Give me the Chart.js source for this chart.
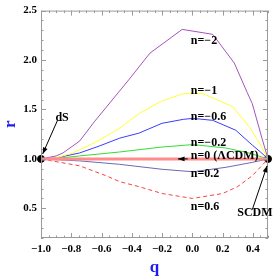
<!DOCTYPE html>
<html>
<head>
<meta charset="UTF-8">
<title>r-q</title>
<script src="https://cdn.jsdelivr.net/npm/chart.js"></script>
<style>
  html, body { margin: 0; padding: 0; background: #fff; }
  #wrap { width: 273px; height: 279px; }
</style>
</head>
<body>
<div id="wrap"><canvas id="myChart"></canvas></div>
<script>
// values
var qM2 = [-1, -0.9, -0.855, -0.745, -0.648, -0.42, -0.28, -0.067, 0.135, 0.277, 0.363, 0.396, 0.46, 0.5];
var rM2 = [1, 1.03, 1.06, 1.18, 1.375, 1.80, 2.07, 2.31, 2.26, 1.97, 1.67, 1.56, 1.21, 1.0];

var qM1 = [-1, -0.9, -0.79, -0.637, -0.48, -0.42, -0.35, -0.21, -0.06, 0.07, 0.19, 0.265, 0.374, 0.44, 0.5];
var rM1 = [1, 1.01, 1.06, 1.17, 1.31, 1.38, 1.46, 1.58, 1.66, 1.66, 1.58, 1.53, 1.33, 1.17, 1.0];

var qM06 = [-1, -0.9, -0.745, -0.615, -0.48, -0.354, -0.2, -0.06, 0.005, 0.135, 0.287, 0.396, 0.45, 0.5];
var rM06 = [1, 1.01, 1.06, 1.13, 1.21, 1.26, 1.36, 1.40, 1.41, 1.39, 1.29, 1.14, 1.07, 1.0];

var qM02 = [-1, -0.9, -0.745, -0.48, -0.2, 0.005, 0.222, 0.374, 0.5];
var rM02 = [1, 1.005, 1.03, 1.07, 1.12, 1.145, 1.11, 1.06, 1.0];

var qZero = [-1, 0.5];
var rZero = [1, 1];

var qP02 = [-1, -0.745, -0.48, -0.2, 0.005, 0.222, 0.396, 0.5];
var rP02 = [1, 0.98, 0.945, 0.895, 0.87, 0.915, 0.965, 1.0];

var qP06 = [-1, -0.745, -0.57, -0.48, -0.354, -0.2, 0.0, 0.2, 0.3, 0.396, 0.47, 0.5];
var rP06 = [1, 0.93, 0.83, 0.77, 0.72, 0.65, 0.60, 0.65, 0.72, 0.83, 0.95, 1.0];

var qFixed = [-1, 0.5];
var rFixed = [1, 1];

var xTicks = [-1.0, -0.8, -0.6, -0.4, -0.2, 0.0, 0.2, 0.4];
var yTicks = [0.5, 1.0, 1.5, 2.0, 2.5];
var xMinorStep = 0.05;
var yMinorStep = 0.1;

function pts(q, r) {
    var out = [];
    for (var i = 0; i < q.length; i++) out.push({ x: q[i], y: r[i] });
    return out;
}

function fmt(v) {
    var s = Math.abs(v).toFixed(1);
    return (v < -1e-9 ? '\u2212' : '') + s;
}

var SERIF = '"Liberation Serif", "DejaVu Serif", serif';

// text labels and arrows, in data coordinates
var notes = [
    { text: 'n=\u22122', q: -0.01, r: 2.19 },
    { text: 'n=\u22121', q: -0.01, r: 1.69 },
    { text: 'n=\u22120.6', q: -0.01, r: 1.42 },
    { text: 'n=\u22120.2', q: -0.01, r: 1.16 },
    { text: 'n=0 (\u039BCDM)', q: -0.01, r: 1.03 },
    { text: 'n=0.2', q: -0.01, r: 0.85 },
    { text: 'n=0.6', q: -0.01, r: 0.515 },
    { text: 'SCDM', q: 0.297, r: 0.457 },
    { text: 'dS', q: -0.905, r: 1.41 }
];
var arrows = [
    { q1: -0.891, r1: 1.39, q2: -0.989, r2: 1.05 },
    { q1: 0.396, r1: 0.486, q2: 0.494, r2: 0.93 },
    { q1: -0.03, r1: 1.0, q2: -0.095, r2: 1.0 }
];

var framePlugin = {
    id: 'frame',
    afterDatasetsDraw: function(chart) {
        var ctx = chart.ctx, a = chart.chartArea;
        var xs = chart.scales.x, ys = chart.scales.y;
        ctx.save();
        ctx.strokeStyle = '#9a9a9a';
        ctx.lineWidth = 1;
        ctx.strokeRect(a.left + 0.5, a.top + 0.5, a.right - a.left - 1, a.bottom - a.top - 1);
        ctx.beginPath();
        var v, px, len, k;
        for (k = 0; ; k++) {
            v = xs.min + k * xMinorStep;
            if (v > xs.max + 1e-9) break;
            len = (Math.abs(Math.round(v * 10) - v * 10) < 1e-6 && Math.round(v * 10) % 2 === 0) ? 5 : 2.5;
            px = Math.round(xs.getPixelForValue(v)) + 0.5;
            ctx.moveTo(px, a.bottom); ctx.lineTo(px, a.bottom - len);
            ctx.moveTo(px, a.top); ctx.lineTo(px, a.top + len);
        }
        for (k = 0; ; k++) {
            v = 0.2 + k * yMinorStep;
            if (v > ys.max + 1e-9) break;
            len = (Math.abs(Math.round(v * 2) - v * 2) < 1e-6) ? 5 : 2.5;
            px = Math.round(ys.getPixelForValue(v)) + 0.5;
            ctx.moveTo(a.left, px); ctx.lineTo(a.left + len, px);
            ctx.moveTo(a.right, px); ctx.lineTo(a.right - len, px);
        }
        ctx.stroke();

        // arrows
        ctx.strokeStyle = '#000';
        ctx.fillStyle = '#000';
        arrows.forEach(function(ar) {
            var x1 = xs.getPixelForValue(ar.q1), y1 = ys.getPixelForValue(ar.r1);
            var x2 = xs.getPixelForValue(ar.q2), y2 = ys.getPixelForValue(ar.r2);
            var ang = Math.atan2(y2 - y1, x2 - x1);
            ctx.beginPath();
            ctx.moveTo(x1, y1); ctx.lineTo(x2, y2);
            ctx.stroke();
            ctx.beginPath();
            ctx.moveTo(x2, y2);
            ctx.lineTo(x2 - 7 * Math.cos(ang - 0.35), y2 - 7 * Math.sin(ang - 0.35));
            ctx.lineTo(x2 - 7 * Math.cos(ang + 0.35), y2 - 7 * Math.sin(ang + 0.35));
            ctx.closePath();
            ctx.fill();
        });

        // text
        ctx.font = 'bold 12px ' + SERIF;
        ctx.textAlign = 'left';
        ctx.textBaseline = 'middle';
        notes.forEach(function(n) {
            ctx.fillText(n.text, xs.getPixelForValue(n.q), ys.getPixelForValue(n.r));
        });
        ctx.restore();
    }
};

var ctx = document.getElementById('myChart').getContext('2d');
new Chart(ctx, {
    type: 'scatter',
    data: {
        datasets: [
            { data: pts(qZero, rZero), borderColor: 'rgba(255,140,140,1)', borderWidth: 3 },
            { data: pts(qM2, rM2), borderColor: '#a455b8' },
            { data: pts(qM1, rM1), borderColor: '#ffff33' },
            { data: pts(qM06, rM06), borderColor: '#3c3cff' },
            { data: pts(qM02, rM02), borderColor: '#33dd33' },
            { data: pts(qP02, rP02), borderColor: '#6a6ab4' },
            { data: pts(qP06, rP06), borderColor: '#ff4040', borderDash: [4, 3] },
            { data: pts(qFixed, rFixed), showLine: false, pointRadius: 3.5, pointBackgroundColor: '#000',
              pointBorderColor: '#000', clip: false }
        ].map(function(d) {
            if (d.showLine === undefined) {
                d.showLine = true;
                d.pointRadius = 0;
                if (!d.borderWidth) d.borderWidth = 1;
            }
            return d;
        })
    },
    options: {
        responsive: true,
        maintainAspectRatio: false,
        animation: false,
        events: [],
        layout: { padding: { top: 6, right: 2, left: 0, bottom: 0 } },
        plugins: { legend: { display: false }, tooltip: { enabled: false } },
        scales: {
            x: {
                type: 'linear', min: -1.0, max: 0.5,
                grid: { display: false, drawTicks: false },
                border: { display: false },
                afterBuildTicks: function(s) { s.ticks = xTicks.map(function(v) { return { value: v }; }); },
                afterFit: function(s) { s.height = 41; },
                ticks: { padding: 5, color: '#000', font: { family: SERIF, size: 11, weight: 'bold' },
                         maxRotation: 0, callback: function(v) { return fmt(v); } },
                title: { display: true, text: 'q', color: '#1c1cf0', font: { family: SERIF, size: 17, weight: 'bold' },
                         padding: { top: 0, bottom: 1 } }
            },
            y: {
                type: 'linear', min: 0.2, max: 2.5,
                grid: { display: false, drawTicks: false },
                border: { display: false },
                afterBuildTicks: function(s) { s.ticks = yTicks.map(function(v) { return { value: v }; }); },
                afterFit: function(s) { s.width = 41; },
                ticks: { padding: 4, color: '#000', font: { family: SERIF, size: 11, weight: 'bold' },
                         callback: function(v) { return fmt(v); } },
                title: { display: true, text: 'r', color: '#1c1cf0', font: { family: SERIF, size: 17, weight: 'bold' },
                         padding: { top: 0, bottom: 0 } }
            }
        }
    },
    plugins: [framePlugin]
});
</script>
</body>
</html>
